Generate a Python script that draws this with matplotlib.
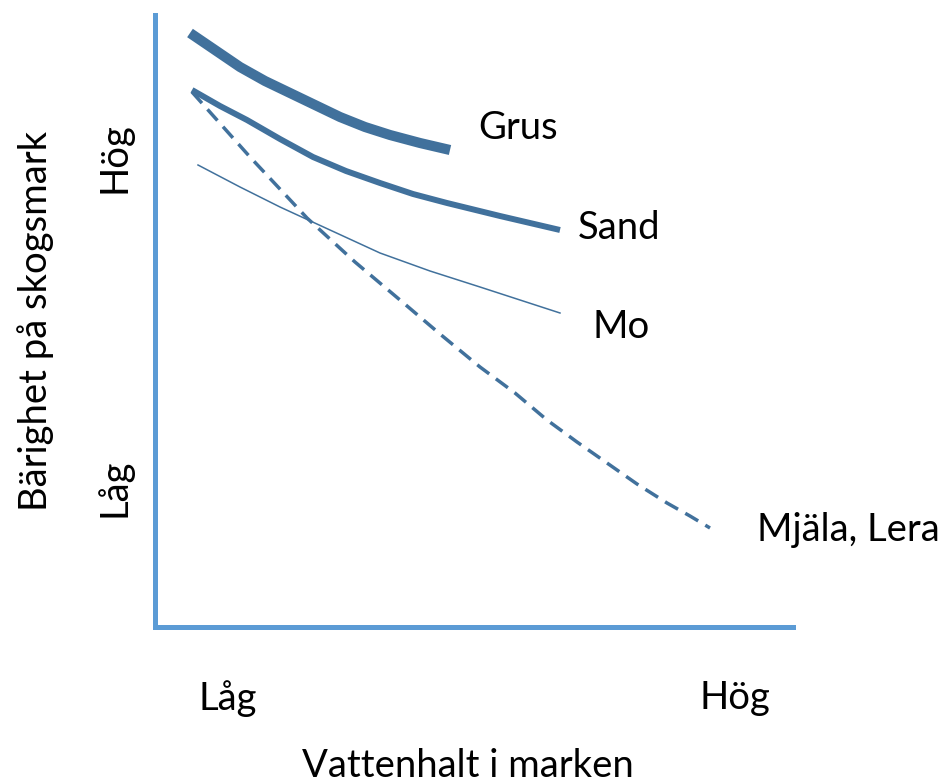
import matplotlib.pyplot as plt

# axis units: x = pixels right of the y axis, y = pixels above the x axis
grus_x = [35, 60, 85, 110, 135, 160, 185, 210, 235, 265, 295]
grus_y = [594, 577, 560, 546, 534, 522, 510, 500, 492, 484, 477]
sand_x = [37, 65, 92, 125, 158, 191, 225, 258, 292, 345, 405]
sand_y = [537, 521, 507, 488, 470, 456, 444, 433, 424, 411, 397]
mo_x = [43, 85, 125, 175, 225, 275, 325, 365, 405]
mo_y = [462, 440, 420, 397, 374, 356, 340, 327, 314]
lera_x = [37, 95, 152, 200, 245, 285, 325, 360, 392, 422, 452, 482, 512, 535, 555]
lera_y = [535, 470, 409, 365, 327, 293, 260, 234, 207, 185, 164, 143, 124, 111, 99]

labels = ["Grus", "Sand", "Mo", "Mjäla, Lera"]
label_x = [323, 423, 437, 602]
label_y = [499, 399, 300, 97]

xtick_pos = [73, 580]
xtick_labels = ["Låg", "Hög"]
ytick_pos = [469, 139]
ytick_labels = ["Hög", "Låg"]

plt.rcParams['font.family'] = ['Lato', 'DejaVu Sans']
line_col = '#41719c'
axis_col = '#5b9bd5'
fs = 27.5

fig = plt.figure(figsize=(9.45, 7.83), dpi=100)
ax = fig.add_axes([155 / 945, (783 - 627) / 783, (793 - 155) / 945, (627 - 15) / 783])
ax.set_xlim(0, 638)
ax.set_ylim(0, 612)

ax.plot(grus_x, grus_y, color=line_col, lw=7.3, solid_capstyle='butt', solid_joinstyle='round')
ax.plot(sand_x, sand_y, color=line_col, lw=4.3, solid_capstyle='butt', solid_joinstyle='round')
ax.plot(mo_x, mo_y, color=line_col, lw=1.1)
ax.plot(lera_x, lera_y, color=line_col, lw=2.5, dashes=(4.3, 2.4))

for name, x, y in zip(labels, label_x, label_y):
    ax.text(x, y, name, fontsize=fs, va='center', ha='left', clip_on=False)

for s in ['top', 'right']:
    ax.spines[s].set_visible(False)
for s in ['left', 'bottom']:
    ax.spines[s].set_color(axis_col)
    ax.spines[s].set_linewidth(3.6)

ax.set_xticks(xtick_pos)
ax.set_xticklabels(xtick_labels, fontsize=fs)
ax.set_yticks(ytick_pos)
ax.set_yticklabels(ytick_labels, fontsize=fs, rotation=90, va='center')
ax.tick_params(length=0, axis='x', pad=38)
ax.tick_params(length=0, axis='y', pad=16)

ax.set_xlabel("Vattenhalt i marken", fontsize=fs)
ax.xaxis.set_label_coords(0.491, -0.197)
ax.set_ylabel("Bärighet på skogsmark", fontsize=fs, labelpad=30)

fig.savefig("out.png", dpi=100)
